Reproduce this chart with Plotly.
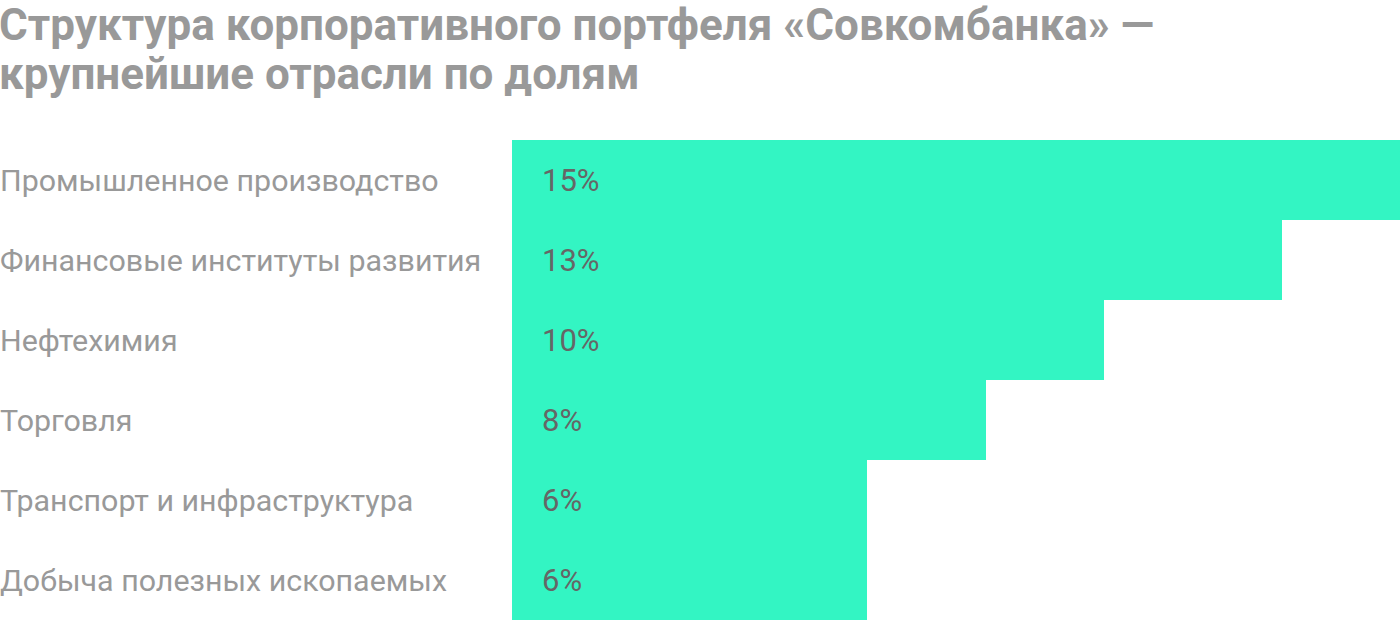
import plotly.graph_objects as go

categories = ["Промышленное производство", "Финансовые институты развития", "Нефтехимия",
              "Торговля", "Транспорт и инфраструктура", "Добыча полезных ископаемых"]
values = [15, 13, 10, 8, 6, 6]
value_labels = ["15%", "13%", "10%", "8%", "6%", "6%"]
title_lines = ["Структура корпоративного портфеля «Совкомбанка» —", "крупнейшие отрасли по долям"]

W, H = 1400, 620
fig = go.Figure(go.Bar(
    x=values, y=categories, orientation="h",
    marker=dict(color="#33f5c3", line=dict(width=0)),
    hoverinfo="skip",
))

ann = []
for c, t in zip(categories, value_labels):
    ann.append(dict(x=0, y=c, xref="x", yref="y", text=t, showarrow=False,
                    xanchor="left", xshift=28, yanchor="middle",
                    font=dict(family="Roboto", size=31, color="#666666")))
    ann.append(dict(x=0, y=c, xref="paper", yref="y", text=c, showarrow=False,
                    xanchor="left", xshift=-2, yanchor="middle",
                    font=dict(family="Roboto", size=30.4, color="#999999")))

title_centers = [25, 74]
for line, yc in zip(title_lines, title_centers):
    ann.append(dict(x=0, y=1 + (140 - yc) / 480, xref="paper", yref="paper", text=line,
                    showarrow=False, xanchor="left", yanchor="middle", xshift=-3,
                    font=dict(family="Roboto", size=44, color="#999999", weight="bold")))

fig.update_layout(
    width=W, height=H,
    margin=dict(l=0, r=0, t=140, b=0),
    paper_bgcolor="white", plot_bgcolor="white",
    bargap=0, showlegend=False,
    xaxis=dict(domain=[512 / W, 1], range=[0, 15], visible=False, fixedrange=True),
    yaxis=dict(autorange="reversed", visible=False, fixedrange=True),
    annotations=ann,
)
fig.write_html("out.html", config={"displayModeBar": False},
               post_script="document.body.style.margin='0';document.body.style.overflow='hidden';")
